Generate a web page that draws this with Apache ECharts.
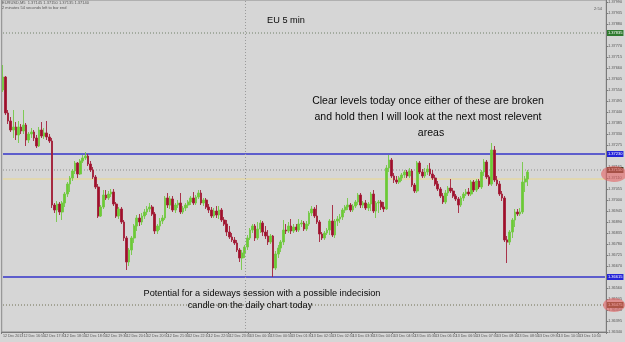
<!DOCTYPE html>
<html>
<head>
<meta charset="utf-8">
<script src="https://cdn.jsdelivr.net/npm/echarts@6/dist/echarts.min.js"></script>
<style>
  html, body { margin: 0; padding: 0; background: #d6d6d6; }
  #chart { width: 625px; height: 342px; }
</style>
</head>
<body>
<div id="chart"></div>
<script>
// EURUSD M5, 12 Dec 16:10 -> 13 Dec, one bar every 5 minutes
const firstBarMinutes = 16 * 60 + 10;
const firstBarDay = 12;
const slotCount = 235; // bars + empty chart shift on the right
const firstLabel = '12 Dec 2013';

// [open, close, low, high]
const candles = [
  [1.37550, 1.37615, 1.37540, 1.37675], [1.37615, 1.37435, 1.37425, 1.37620], [1.37435, 1.37395, 1.37380, 1.37450],
  [1.37395, 1.37350, 1.37340, 1.37415], [1.37350, 1.37365, 1.37310, 1.37450], [1.37365, 1.37325, 1.37300, 1.37390],
  [1.37325, 1.37365, 1.37285, 1.37395], [1.37365, 1.37345, 1.37330, 1.37380], [1.37345, 1.37375, 1.37330, 1.37450],
  [1.37375, 1.37300, 1.37270, 1.37385], [1.37300, 1.37330, 1.37285, 1.37340], [1.37330, 1.37340, 1.37310, 1.37360],
  [1.37340, 1.37310, 1.37295, 1.37350], [1.37310, 1.37270, 1.37260, 1.37325], [1.37270, 1.37350, 1.37265, 1.37365],
  [1.37350, 1.37320, 1.37310, 1.37390], [1.37320, 1.37335, 1.37305, 1.37360], [1.37335, 1.37315, 1.37300, 1.37395],
  [1.37315, 1.37295, 1.37285, 1.37330], [1.37295, 1.36975, 1.36960, 1.37310], [1.36975, 1.36950, 1.36935, 1.36985],
  [1.36950, 1.36980, 1.36890, 1.36995], [1.36980, 1.36940, 1.36925, 1.36990], [1.36940, 1.36985, 1.36900, 1.36995],
  [1.36985, 1.37030, 1.36965, 1.37040], [1.37030, 1.37080, 1.37015, 1.37090], [1.37080, 1.37110, 1.37040, 1.37120],
  [1.37110, 1.37145, 1.37095, 1.37155], [1.37145, 1.37185, 1.37130, 1.37195], [1.37185, 1.37130, 1.37110, 1.37190],
  [1.37130, 1.37195, 1.37125, 1.37205], [1.37195, 1.37210, 1.37185, 1.37225], [1.37210, 1.37220, 1.37200, 1.37240],
  [1.37220, 1.37180, 1.37170, 1.37230], [1.37180, 1.37150, 1.37140, 1.37195], [1.37150, 1.37115, 1.37105, 1.37165],
  [1.37115, 1.37065, 1.37055, 1.37125], [1.37065, 1.36920, 1.36910, 1.37080], [1.36920, 1.36965, 1.36915, 1.36975],
  [1.36965, 1.37025, 1.36955, 1.37050], [1.37025, 1.37010, 1.37000, 1.37050], [1.37010, 1.37030, 1.37000, 1.37045],
  [1.37030, 1.37040, 1.37015, 1.37055], [1.37040, 1.36980, 1.36970, 1.37055], [1.36980, 1.36920, 1.36910, 1.36990],
  [1.36920, 1.36955, 1.36905, 1.36965], [1.36955, 1.36890, 1.36880, 1.36965], [1.36890, 1.36810, 1.36795, 1.36900],
  [1.36810, 1.36690, 1.36650, 1.36820], [1.36690, 1.36750, 1.36670, 1.36760], [1.36750, 1.36810, 1.36725, 1.36820],
  [1.36810, 1.36870, 1.36785, 1.36880], [1.36870, 1.36910, 1.36845, 1.36925], [1.36910, 1.36890, 1.36870, 1.36930],
  [1.36890, 1.36920, 1.36875, 1.36935], [1.36920, 1.36940, 1.36905, 1.36955], [1.36940, 1.36955, 1.36925, 1.36970],
  [1.36955, 1.36965, 1.36940, 1.36985], [1.36965, 1.36930, 1.36920, 1.36975], [1.36930, 1.36845, 1.36830, 1.36940],
  [1.36845, 1.36870, 1.36830, 1.36880], [1.36870, 1.36895, 1.36850, 1.36910], [1.36895, 1.36910, 1.36880, 1.36925],
  [1.36910, 1.37010, 1.36900, 1.37020], [1.37010, 1.36975, 1.36960, 1.37035], [1.36975, 1.37005, 1.36955, 1.37020],
  [1.37005, 1.36950, 1.36940, 1.37020], [1.36950, 1.36975, 1.36935, 1.36985], [1.36975, 1.36985, 1.36960, 1.37000],
  [1.36985, 1.36940, 1.36930, 1.37035], [1.36940, 1.36960, 1.36930, 1.36970], [1.36960, 1.36975, 1.36945, 1.36985],
  [1.36975, 1.36990, 1.36960, 1.37000], [1.36990, 1.37010, 1.36975, 1.37020], [1.37010, 1.36985, 1.36975, 1.37040],
  [1.36985, 1.37015, 1.36975, 1.37025], [1.37015, 1.37035, 1.37005, 1.37050], [1.37035, 1.36985, 1.36975, 1.37050],
  [1.36985, 1.37000, 1.36970, 1.37010], [1.37000, 1.36965, 1.36955, 1.37010], [1.36965, 1.36950, 1.36935, 1.36980],
  [1.36950, 1.36920, 1.36910, 1.36965], [1.36920, 1.36945, 1.36910, 1.36960], [1.36945, 1.36925, 1.36910, 1.36970],
  [1.36925, 1.36950, 1.36905, 1.36970], [1.36950, 1.36900, 1.36890, 1.36960], [1.36900, 1.36880, 1.36870, 1.36915],
  [1.36880, 1.36840, 1.36820, 1.36900], [1.36840, 1.36815, 1.36805, 1.36870], [1.36815, 1.36800, 1.36790, 1.36835],
  [1.36800, 1.36785, 1.36775, 1.36815], [1.36785, 1.36750, 1.36740, 1.36800], [1.36750, 1.36710, 1.36690, 1.36760],
  [1.36710, 1.36735, 1.36650, 1.36750], [1.36735, 1.36765, 1.36710, 1.36775], [1.36765, 1.36810, 1.36750, 1.36825],
  [1.36810, 1.36850, 1.36800, 1.36860], [1.36850, 1.36870, 1.36835, 1.36880], [1.36870, 1.36810, 1.36795, 1.36880],
  [1.36810, 1.36855, 1.36800, 1.36890], [1.36855, 1.36885, 1.36835, 1.36900], [1.36885, 1.36840, 1.36820, 1.36895],
  [1.36840, 1.36820, 1.36805, 1.36870], [1.36820, 1.36790, 1.36775, 1.36850], [1.36790, 1.36820, 1.36780, 1.36830],
  [1.36820, 1.36660, 1.36615, 1.36825], [1.36660, 1.36730, 1.36650, 1.36745], [1.36730, 1.36760, 1.36710, 1.36775],
  [1.36760, 1.36790, 1.36740, 1.36800], [1.36790, 1.36850, 1.36775, 1.36900], [1.36850, 1.36845, 1.36830, 1.36880],
  [1.36845, 1.36870, 1.36835, 1.36890], [1.36870, 1.36845, 1.36830, 1.36905], [1.36845, 1.36865, 1.36835, 1.36880],
  [1.36865, 1.36850, 1.36840, 1.36880], [1.36850, 1.36880, 1.36840, 1.36905], [1.36880, 1.36885, 1.36865, 1.36900],
  [1.36885, 1.36855, 1.36845, 1.36895], [1.36855, 1.36880, 1.36845, 1.36895], [1.36880, 1.36935, 1.36870, 1.36945],
  [1.36935, 1.36955, 1.36920, 1.36970], [1.36955, 1.36920, 1.36910, 1.36965], [1.36920, 1.36890, 1.36880, 1.36975],
  [1.36890, 1.36830, 1.36790, 1.36900], [1.36830, 1.36810, 1.36800, 1.36840], [1.36810, 1.36835, 1.36800, 1.36845],
  [1.36835, 1.36850, 1.36825, 1.36860], [1.36850, 1.36895, 1.36825, 1.36905], [1.36895, 1.36825, 1.36815, 1.36975],
  [1.36825, 1.36895, 1.36810, 1.36905], [1.36895, 1.36905, 1.36870, 1.36920], [1.36905, 1.36915, 1.36885, 1.36930],
  [1.36915, 1.36950, 1.36900, 1.36960], [1.36950, 1.36965, 1.36935, 1.36975], [1.36965, 1.36975, 1.36950, 1.37010],
  [1.36975, 1.36950, 1.36940, 1.36985], [1.36950, 1.36970, 1.36940, 1.36980], [1.36970, 1.36990, 1.36960, 1.37000],
  [1.36990, 1.37025, 1.36975, 1.37035], [1.37025, 1.36975, 1.36960, 1.37035], [1.36975, 1.36985, 1.36960, 1.36995],
  [1.36985, 1.36960, 1.36950, 1.37000], [1.36960, 1.36980, 1.36945, 1.36990], [1.36980, 1.37030, 1.36945, 1.37040],
  [1.37030, 1.36945, 1.36935, 1.37050], [1.36945, 1.36985, 1.36910, 1.36995], [1.36985, 1.36990, 1.36935, 1.37000],
  [1.36990, 1.36965, 1.36950, 1.37000], [1.36965, 1.36955, 1.36940, 1.36990], [1.36955, 1.37160, 1.36950, 1.37175],
  [1.37160, 1.37200, 1.37140, 1.37225], [1.37200, 1.37120, 1.37110, 1.37210], [1.37120, 1.37100, 1.37085, 1.37135],
  [1.37100, 1.37090, 1.37080, 1.37120], [1.37090, 1.37110, 1.37080, 1.37120], [1.37110, 1.37125, 1.37095, 1.37135],
  [1.37125, 1.37140, 1.37110, 1.37150], [1.37140, 1.37120, 1.37110, 1.37150], [1.37120, 1.37145, 1.37110, 1.37160],
  [1.37145, 1.37075, 1.37065, 1.37155], [1.37075, 1.37045, 1.37035, 1.37085], [1.37045, 1.37185, 1.37035, 1.37195],
  [1.37185, 1.37140, 1.37130, 1.37195], [1.37140, 1.37120, 1.37110, 1.37155], [1.37120, 1.37140, 1.37110, 1.37160],
  [1.37140, 1.37155, 1.37125, 1.37175], [1.37155, 1.37130, 1.37120, 1.37185], [1.37130, 1.37110, 1.37100, 1.37150],
  [1.37110, 1.37080, 1.37070, 1.37125], [1.37080, 1.37055, 1.37045, 1.37095], [1.37055, 1.37020, 1.37010, 1.37065],
  [1.37020, 1.36990, 1.36980, 1.37035], [1.36990, 1.37035, 1.36980, 1.37050], [1.37035, 1.37060, 1.37020, 1.37070],
  [1.37060, 1.37045, 1.37035, 1.37105], [1.37045, 1.37020, 1.37010, 1.37060], [1.37020, 1.37005, 1.36995, 1.37030],
  [1.37005, 1.36975, 1.36935, 1.37015], [1.36975, 1.37010, 1.36965, 1.37020], [1.37010, 1.37030, 1.36995, 1.37040],
  [1.37030, 1.37040, 1.37020, 1.37055], [1.37040, 1.37030, 1.37020, 1.37060], [1.37030, 1.37090, 1.37020, 1.37100],
  [1.37090, 1.37050, 1.37040, 1.37100], [1.37050, 1.37095, 1.37040, 1.37105], [1.37095, 1.37065, 1.37055, 1.37105],
  [1.37065, 1.37140, 1.37055, 1.37150], [1.37140, 1.37190, 1.37120, 1.37205], [1.37190, 1.37115, 1.37105, 1.37200],
  [1.37115, 1.37080, 1.37070, 1.37125], [1.37080, 1.37250, 1.37070, 1.37285], [1.37250, 1.37100, 1.37090, 1.37270],
  [1.37100, 1.37080, 1.37070, 1.37120], [1.37080, 1.37030, 1.37020, 1.37095], [1.37030, 1.37010, 1.36995, 1.37045],
  [1.37010, 1.36800, 1.36790, 1.37020], [1.36800, 1.36790, 1.36685, 1.36820], [1.36790, 1.36840, 1.36775, 1.36850],
  [1.36840, 1.36900, 1.36810, 1.36910], [1.36900, 1.36940, 1.36865, 1.36955], [1.36940, 1.36930, 1.36920, 1.36955],
  [1.36930, 1.36940, 1.36920, 1.36960], [1.36940, 1.37090, 1.36930, 1.37190], [1.37090, 1.37105, 1.37040, 1.37120],
  [1.37105, 1.37140, 1.37070, 1.37150]
];

// horizontal levels drawn on the chart
const blueLevels = [1.37230, 1.36615];
const dottedLevels = [1.37835, 1.36475];
const bidLevel = 1.37150;
const yellowLevel = 1.37105;
const separatorTime = '13 Dec 00:00';

const priceMin = 1.3634;
const priceMax = 1.3800;
const priceStep = 0.00055;

const titleText = 'EU 5 min';
const noteTop = ['Clear levels today once either of these are broken', 'and hold then I will look at the next most relevent', 'areas'];
const noteBottom = ['Potential for a sideways session with a possible indecision', 'candle on the daily chart today'];

const times = [];
for (let i = 0; i < slotCount; i++) {
  const t = firstBarMinutes + i * 5;
  const day = firstBarDay + Math.floor(t / 1440);
  const m = t % 1440;
  const hh = String(Math.floor(m / 60)).padStart(2, '0');
  const mm = String(m % 60).padStart(2, '0');
  times.push(day + ' Dec ' + hh + ':' + mm);
}

const font = 'Liberation Sans';
const myChart = echarts.init(document.getElementById('chart'));

// a level = flat line series across the whole chart, price tag on the axis
const levelSeries = (value, color, type, width, tagColor) => ({
  type: 'line',
  data: [[times[0], value], [times[slotCount - 1], value]],
  symbol: 'none',
  silent: true,
  z: 3,
  lineStyle: { color: color, type: type, width: width },
  endLabel: tagColor ? {
    show: true, distance: 2,
    formatter: value.toFixed(5),
    fontSize: 4, fontFamily: font, color: '#ffffff',
    backgroundColor: tagColor, padding: [1, 1]
  } : { show: false }
});

const option = {
  animation: false,
  backgroundColor: '#d6d6d6',
  grid: { left: 1, right: 14, top: 0, bottom: 10, show: true, borderColor: '#8a8a8a', borderWidth: 1 },
  xAxis: {
    type: 'category',
    data: times,
    boundaryGap: true,
    axisLine: { lineStyle: { color: '#7a7a7a' } },
    axisTick: { show: true, interval: 7, length: 2, lineStyle: { color: '#7a7a7a' } },
    axisLabel: {
      interval: 7, align: 'left', fontSize: 3.6, fontFamily: font, color: '#555555', margin: 2,
      formatter: (v, i) => i === 0 ? firstLabel : v
    },
    splitLine: { show: false }
  },
  yAxis: {
    type: 'value',
    position: 'right',
    min: priceMin,
    max: priceMax,
    interval: priceStep,
    axisLine: { show: true, lineStyle: { color: '#7a7a7a' } },
    axisTick: { show: true, length: 2, lineStyle: { color: '#7a7a7a' } },
    axisLabel: { fontSize: 3.8, fontFamily: font, color: '#555555', margin: 2, formatter: v => v.toFixed(5) },
    splitLine: { show: false }
  },
  series: [
    levelSeries(yellowLevel, '#ecd98a', 'solid', 1, null),
    levelSeries(bidLevel, '#8c8c8c', [1, 2], 1, '#4a3a22'),
    {
      type: 'candlestick',
      data: candles,
      barWidth: 2.2,
      z: 4,
      itemStyle: {
        color: '#6ccb34', color0: '#a00f2c',
        borderColor: '#74c845', borderColor0: '#a3203a', borderWidth: 0.9
      },
      markLine: {
        silent: true,
        symbol: ['none', 'none'],
        label: { show: false },
        data: [
          { xAxis: separatorTime, lineStyle: { color: '#9a9a9a', type: [1, 2], width: 1 } }
        ]
      }
    },
    levelSeries(dottedLevels[0], '#6f7f68', [1, 2], 1, '#2f7a2f'),
    levelSeries(blueLevels[0], '#3434c8', 'solid', 1.4, '#2424d8'),
    levelSeries(blueLevels[1], '#3434c8', 'solid', 1.4, '#2424d8'),
    levelSeries(dottedLevels[1], '#6e6e52', [1, 2], 1, '#5a4420')
  ]
};

myChart.setOption(option);

const py = v => myChart.convertToPixel({ yAxisIndex: 0 }, v);
const txt = (x, y, text, size, align, color) => ({
  type: 'text', x: x, y: y, z: 50,
  style: { text: text, font: size + 'px ' + font, fill: color || '#0a0a0a', align: align || 'center', verticalAlign: 'middle' }
});

myChart.setOption({
  graphic: [
    txt(2, 3, 'EURUSD,M5  1.37145 1.37150 1.37135 1.37140', 4, 'left', '#555'),
    txt(2, 8, '2 minutes 54 seconds left to bar end', 4, 'left', '#555'),
    txt(598, 9, '2:54', 4, 'center', '#555'),
    txt(286, 20, titleText, 9.2),
    txt(428, 101, noteTop[0], 10.5),
    txt(428, 117, noteTop[1], 10.5),
    txt(431, 133, noteTop[2], 10.5),
    txt(262, 293, noteBottom[0], 9.2),
    txt(250, 305, noteBottom[1], 9.2),
    { type: 'ellipse', z: 100, shape: { cx: 614, cy: py(bidLevel) + 4, rx: 13, ry: 8 }, style: { fill: 'rgba(228,96,96,0.6)' } },
    { type: 'ellipse', z: 100, shape: { cx: 614, cy: py(dottedLevels[1]), rx: 11, ry: 7 }, style: { fill: 'rgba(228,96,96,0.6)' } }
  ]
});
</script>
</body>
</html>
